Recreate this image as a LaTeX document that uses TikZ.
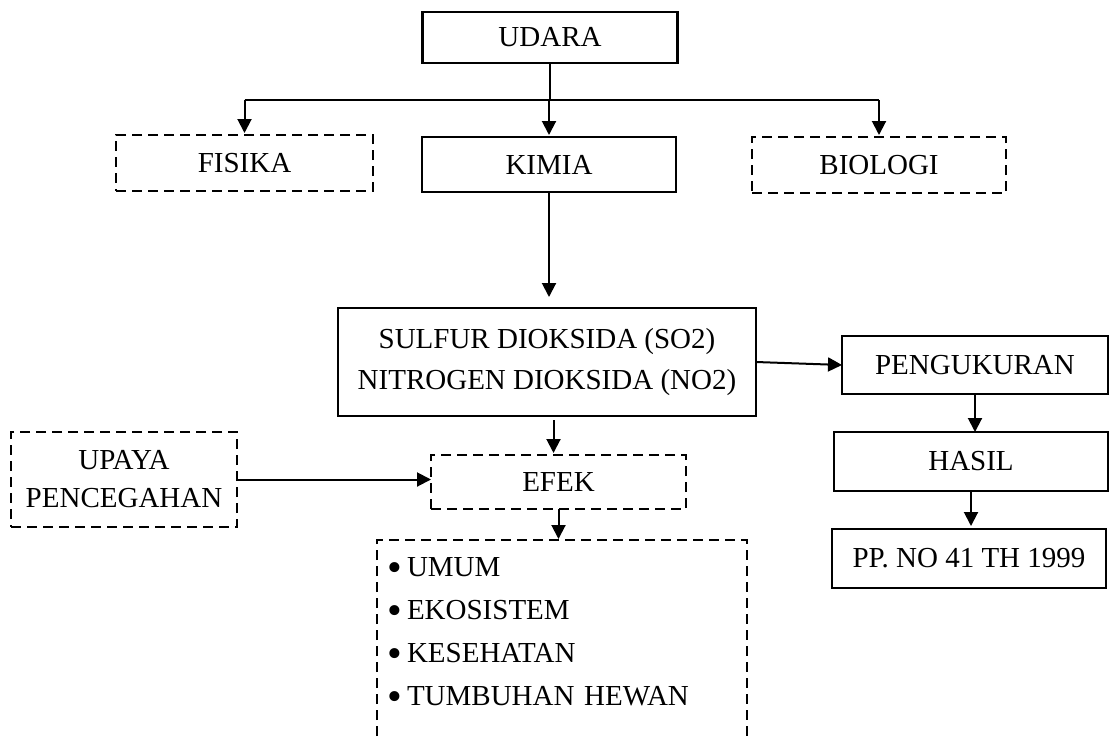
\documentclass[tikz,border=0pt]{standalone}
\usepackage{fontspec}
\setmainfont{Liberation Serif}
\usetikzlibrary{arrows.meta}
\newcommand{\bigbullet}{\makebox[20pt][l]{\hspace{0.5pt}\raisebox{-4.8pt}{\scalebox{1.45}{\textbullet}}}}
\begin{document}
\begin{tikzpicture}[x=1pt,y=-1pt,
  every node/.style={font=\fontsize{29}{35}\selectfont, inner sep=0pt, outer sep=0pt},
  solidbox/.style={draw, line width=2.6pt, rectangle},
  dashbox/.style={draw, line width=2.5pt, dash pattern=on 10pt off 6pt},
  arr/.style={line width=2pt, -{Triangle[length=14pt,width=14pt]}},
  plain/.style={line width=2pt}]
\useasboundingbox (0,0) rectangle (1110,736);

\node[solidbox, minimum width=255pt, minimum height=51pt] (udara) at (550,37.5) {UDARA};
\node[dashbox, minimum width=257pt, minimum height=56pt] (fisika) at (244.5,163) {FISIKA};
\node[solidbox, minimum width=254pt, minimum height=55pt] (kimia) at (549,164.5) {KIMIA};
\node[dashbox, minimum width=254pt, minimum height=56pt] (biologi) at (879,165) {BIOLOGI};

\node[solidbox, minimum width=418pt, minimum height=108pt, align=center,
      font=\fontsize{29}{41}\selectfont] (sulfur) at (547,362)
      {SULFUR DIOKSIDA (SO2)\\NITROGEN DIOKSIDA (NO2)};

\node[solidbox, minimum width=266pt, minimum height=58pt] (peng) at (975,365) {PENGUKURAN};
\node[solidbox, minimum width=274pt, minimum height=59pt] (hasil) at (971,461.5) {HASIL};
\node[solidbox, minimum width=274pt, minimum height=59pt] (pp) at (969,558.5) {PP. NO 41 TH 1999};

\node[dashbox, minimum width=226pt, minimum height=95pt, align=center,
      font=\fontsize{29}{38}\selectfont] (upaya) at (124,479.5) {UPAYA\\PENCEGAHAN};
\node[dashbox, minimum width=255pt, minimum height=54pt] (efek) at (558.5,482) {EFEK};

% list frame (open at the bottom edge of the picture)
\coordinate (lbl) at (377,736);
\coordinate (ltl) at (377,540);
\coordinate (ltr) at (747,540);
\coordinate (lbr) at (747,736);
\coordinate (listtop) at (558.5,540);
\draw[dashbox] (lbl) -- (ltl) -- (ltr) -- (lbr);
\node[anchor=north west, text width=355pt, align=left,
      font=\fontsize{29}{43}\selectfont] (list) at (387,558)
  {\bigbullet UMUM\\\bigbullet EKOSISTEM\\\bigbullet KESEHATAN\\\bigbullet TUMBUHAN HEWAN};

% connectors
\coordinate (hl) at (244.5,100);
\coordinate (hr) at (879,100);
\draw[plain] (hl) -- (hr);
\draw[plain] (udara.south) -- (udara.south |- hl);
\draw[arr, shorten >=2pt] (hl) -- (fisika.north);
\draw[arr, shorten >=2pt] (kimia.north |- hl) -- (kimia.north);
\draw[arr, shorten >=2pt] (hr) -- (biologi.north);
\draw[arr, shorten >=11pt] (kimia.south) -- (kimia.south |- sulfur.north);
\draw[arr] (sulfur.east) -- (peng.west);
\draw[arr] (peng.south) -- (peng.south |- hasil.north);
\draw[arr, shorten >=3pt] (hasil.south) -- (hasil.south |- pp.north);
\draw[arr, shorten <=4pt, shorten >=2pt] ([xshift=-5pt]efek.north |- sulfur.south) -- ([xshift=-5pt]efek.north);
\draw[arr] (upaya.east) -- (upaya.east -| efek.west);
\draw[arr, shorten >=1pt] (efek.south) -- (listtop);
\end{tikzpicture}
\end{document}
